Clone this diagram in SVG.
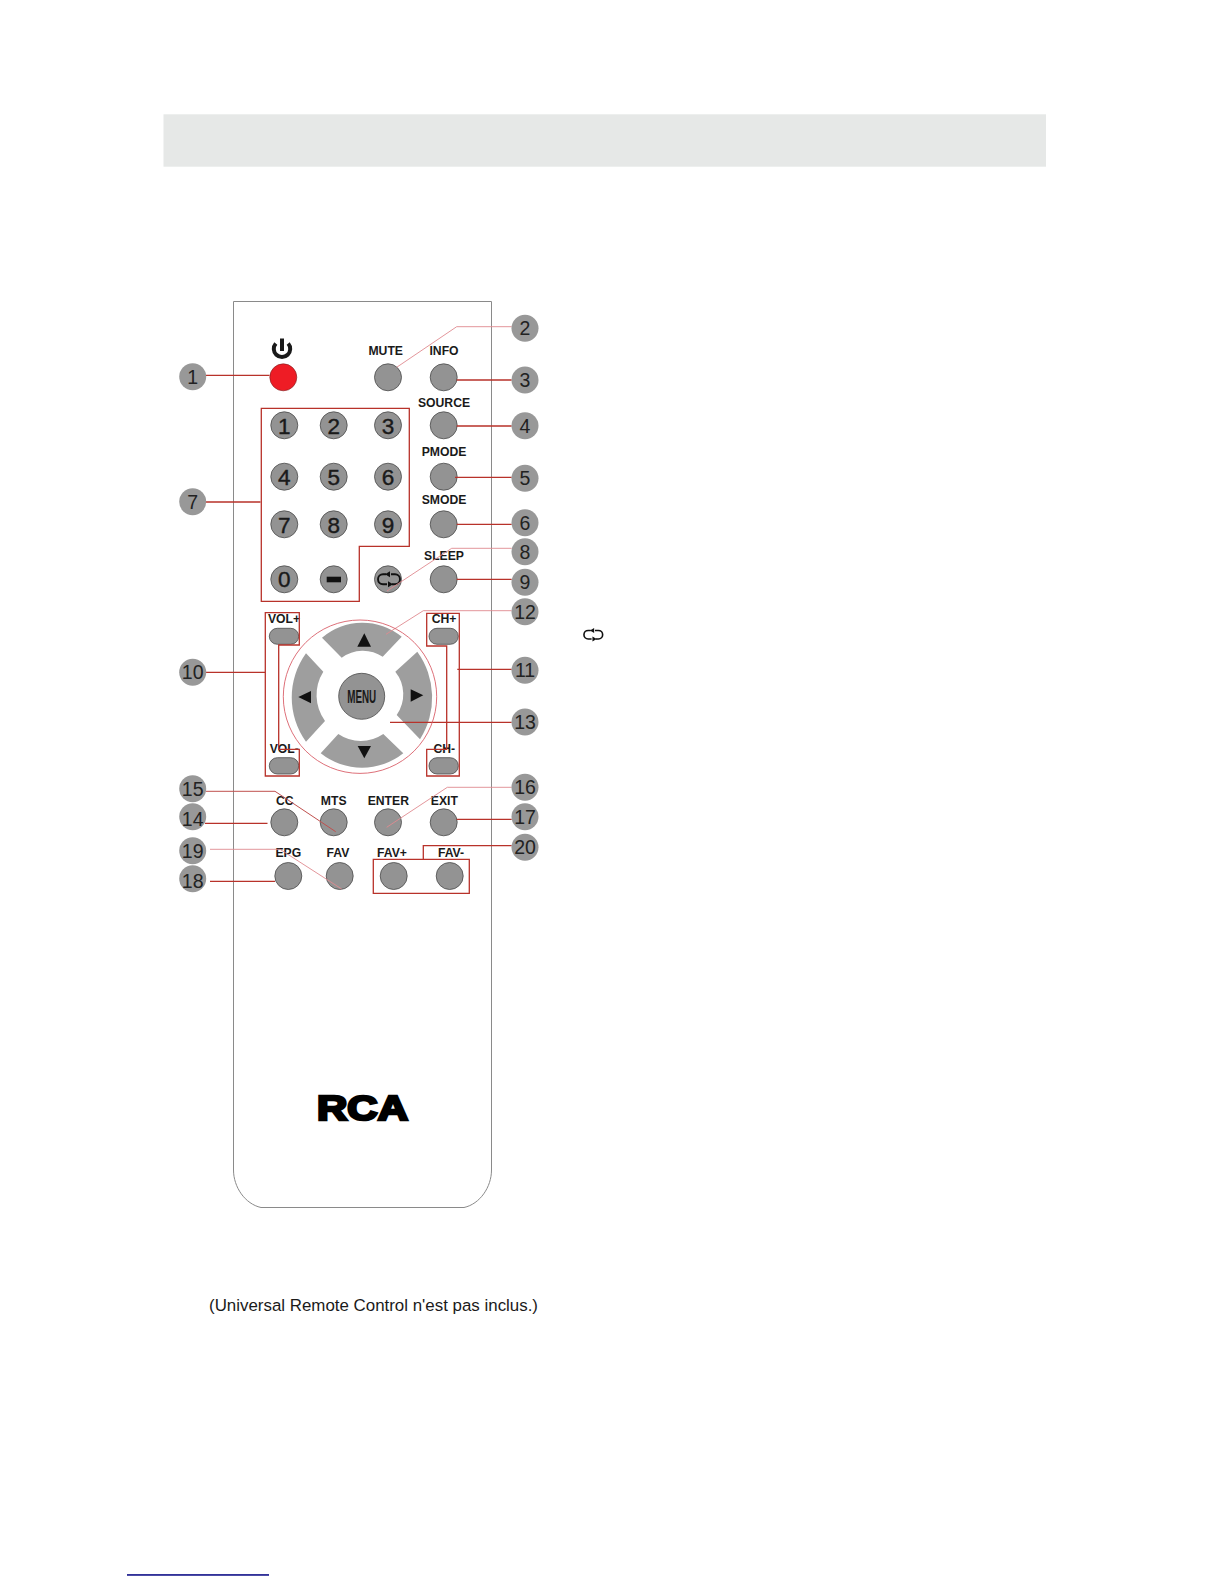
<svg xmlns="http://www.w3.org/2000/svg" width="1224" height="1584" viewBox="0 0 1224 1584">
<style>
text{font-family:"Liberation Sans",Arial,sans-serif;fill:#1a1a1a}
.btn{fill:#939393;stroke:#4a4a4a;stroke-width:.8}
.pad{fill:#9e9e9e}
.call{fill:#989898}
.num{font-size:19.5px;text-anchor:middle;fill:#222}
.lbl{font-size:12.2px;font-weight:bold;text-anchor:middle}
.dig{font-size:22.5px;text-anchor:middle;stroke:#1a1a1a;stroke-width:.4}
.r{fill:none;stroke:#b8322a;stroke-width:1.3}
.p{fill:none;stroke:#e08a90;stroke-width:.9}
.t{fill:none;stroke:#c0504e;stroke-width:1}
</style>
<defs>
<g id="rep">
<path d="M-3-5H-6A5 5 0 0 0-6 5H-2M3 5H6A5 5 0 0 0 6-5H2" fill="none" stroke="#111" stroke-width="1.9"/>
<path d="M-4-5 1-8V-2ZM4 5-1 8V2Z" fill="#111"/>
</g>
</defs>
<rect id="header" x="163.500" y="114.300" width="882.500" height="52.400" fill="#e6e8e7"/>
<path id="remote-body" d="M233.500 301.500H491.500V1170C491.500 1187 480 1204 464 1207.500H261C245 1204 233.500 1187 233.500 1170Z" fill="#fff" stroke="#8a8a8a" stroke-width="1"/>
<g id="power-icon">
<path d="M275.800 343.500A8.200 8.200 0 1 0 288.200 343.500" fill="none" stroke="#1a1a1a" stroke-width="4"/>
<path d="M282 338.500V351" stroke="#1a1a1a" stroke-width="4"/>
</g>
<g id="btn-power"><circle cx="283.300" cy="377.300" r="13.500" fill="#ee1c25" stroke="#7a2020" stroke-width=".6"/></g>
<g id="btn-mute"><circle class="btn" cx="388" cy="377.300" r="13.500"/><text class="lbl" x="385.700" y="355">MUTE</text></g>
<g id="btn-info"><circle class="btn" cx="443.700" cy="377.300" r="13.500"/><text class="lbl" x="444" y="355">INFO</text></g>
<g id="btn-source"><circle class="btn" cx="443.700" cy="425.300" r="13.500"/><text class="lbl" x="444" y="407.300">SOURCE</text></g>
<g id="btn-pmode"><circle class="btn" cx="443.700" cy="476.700" r="13.500"/><text class="lbl" x="444" y="455.700">PMODE</text></g>
<g id="btn-smode"><circle class="btn" cx="443.700" cy="524.300" r="13.500"/><text class="lbl" x="444" y="503.700">SMODE</text></g>
<g id="btn-sleep"><circle class="btn" cx="443.700" cy="579.300" r="13.500"/><text class="lbl" x="444" y="560.300">SLEEP</text></g>
<g id="btn-1"><circle class="btn" cx="284.300" cy="425.300" r="13.500"/><text class="dig" x="284.300" y="433.500">1</text></g>
<g id="btn-2"><circle class="btn" cx="333.700" cy="425.300" r="13.500"/><text class="dig" x="333.700" y="433.500">2</text></g>
<g id="btn-3"><circle class="btn" cx="388" cy="425.300" r="13.500"/><text class="dig" x="388" y="433.500">3</text></g>
<g id="btn-4"><circle class="btn" cx="284.300" cy="476.700" r="13.500"/><text class="dig" x="284.300" y="485">4</text></g>
<g id="btn-5"><circle class="btn" cx="333.700" cy="476.700" r="13.500"/><text class="dig" x="333.700" y="485">5</text></g>
<g id="btn-6"><circle class="btn" cx="388" cy="476.700" r="13.500"/><text class="dig" x="388" y="485">6</text></g>
<g id="btn-7"><circle class="btn" cx="284.300" cy="524.300" r="13.500"/><text class="dig" x="284.300" y="532.500">7</text></g>
<g id="btn-8"><circle class="btn" cx="333.700" cy="524.300" r="13.500"/><text class="dig" x="333.700" y="532.500">8</text></g>
<g id="btn-9"><circle class="btn" cx="388" cy="524.300" r="13.500"/><text class="dig" x="388" y="532.500">9</text></g>
<g id="btn-0"><circle class="btn" cx="284.300" cy="579.300" r="13.500"/><text class="dig" x="284.300" y="587">0</text></g>
<g id="btn-dash"><circle class="btn" cx="333.700" cy="579.300" r="13.500"/><rect x="326.700" y="576.700" width="14.300" height="5.600" fill="#111"/></g>
<g id="btn-repeat"><circle class="btn" cx="388" cy="579.300" r="13.500"/><use href="#rep" transform="translate(389 579.300)"/></g>
<g id="btn-volup"><rect class="btn" x="269.300" y="628.300" width="29.400" height="16" rx="8"/><text class="lbl" x="284" y="623.300">VOL+</text></g>
<g id="btn-voldn"><rect class="btn" x="269.300" y="757.700" width="29.400" height="16.300" rx="8"/><text class="lbl" x="284.300" y="753.300">VOL-</text></g>
<g id="btn-chup"><rect class="btn" x="429" y="628.300" width="29.300" height="16" rx="8"/><text class="lbl" x="444" y="623.300">CH+</text></g>
<g id="btn-chdn"><rect class="btn" x="429" y="757.700" width="29.300" height="16.300" rx="8"/><text class="lbl" x="444.300" y="753.300">CH-</text></g>
<g id="pad-up"><path class="pad" d="M322 637.700A62 62 0 0 1 401.700 636.700L382.700 656.700A35.600 35.600 0 0 0 341.700 657.700Z"/><path d="M364.300 633.300 357.300 646.700H371Z" fill="#111"/></g>
<g id="pad-right"><path class="pad" d="M417.300 651.700A78 78 0 0 1 420 739.300L396.700 715A36 36 0 0 0 395.300 671.700Z"/><path d="M410.700 689.300V701.700L423.300 695.300Z" fill="#111"/></g>
<g id="pad-left"><path class="pad" d="M306 653.300A75.600 75.600 0 0 0 306 741.700L325 721A44 44 0 0 1 323.300 671.700Z"/><path d="M298.300 697 311 691V703.300Z" fill="#111"/></g>
<g id="pad-down"><path class="pad" d="M320.700 753.300A66.400 66.400 0 0 0 403.300 753.300L383.300 734A40 40 0 0 1 338.300 734Z"/><path d="M357.700 746H371L364.300 758.300Z" fill="#111"/></g>
<g id="btn-menu"><circle class="btn" cx="361.700" cy="696.300" r="23"/><text x="361.700" y="703" text-anchor="middle" font-size="18.500" font-weight="bold" textLength="29" lengthAdjust="spacingAndGlyphs">MENU</text></g>
<g id="btn-cc"><circle class="btn" cx="284.300" cy="822.300" r="13.500"/><text class="lbl" x="284.700" y="805">CC</text></g>
<g id="btn-mts"><circle class="btn" cx="333.700" cy="822.300" r="13.500"/><text class="lbl" x="333.700" y="805">MTS</text></g>
<g id="btn-enter"><circle class="btn" cx="388" cy="822.300" r="13.500"/><text class="lbl" x="388.300" y="805">ENTER</text></g>
<g id="btn-exit"><circle class="btn" cx="443.700" cy="822.300" r="13.500"/><text class="lbl" x="444.300" y="805">EXIT</text></g>
<g id="btn-epg"><circle class="btn" cx="288.300" cy="876" r="13.500"/><text class="lbl" x="288.300" y="856.700">EPG</text></g>
<g id="btn-fav"><circle class="btn" cx="339.700" cy="876" r="13.500"/><text class="lbl" x="338" y="856.700">FAV</text></g>
<g id="btn-favp"><circle class="btn" cx="393.700" cy="876" r="13.500"/><text class="lbl" x="392" y="856.700">FAV+</text></g>
<g id="btn-favm"><circle class="btn" cx="449.700" cy="876" r="13.500"/><text class="lbl" x="451" y="856.700">FAV-</text></g>
<g id="connectors">
<path class="r" d="M206 375.300H269.500M456.700 380H511.700M456.700 426H511.700M455 477.300H511.700M456.700 524.300H511.700M456.700 579.300H511.700M206 502H260.500M206 672.300H265M457.300 669.300H511.700M390 722.300H511.700M205 823.300H267.500M456.700 819.300H511.700M210 881.300H275"/>
<path class="r" d="M261.300 408.300H409.300V546.300H359.300V601.300H261.300Z"/>
<path class="r" d="M265.300 612.700H299.300V645H278.700V749.300H299.300V776H265.300Z"/>
<path class="r" d="M426.700 613.300H459.300V776H426.700V749.300H446.700V646H426.700Z"/>
<path class="r" d="M373.300 859.300H469.300V893.300H373.300ZM423.300 859.300V845.700H511.700"/>
<path class="p" d="M511.700 326.700H456.700L396.700 367.300M511.700 548.300H451.700L387 591M511.700 610.700H423.300L386 634.300M511.700 787.300H447.300L386.700 827.300M210 849.300H280L341.700 889"/>
<path class="t" d="M206 791.300H275L335.700 831.700"/>
<circle cx="360" cy="696.700" r="76.700" fill="none" stroke="#d9606a" stroke-width=".9"/>
</g>
<g id="callout-1"><circle class="call" cx="192.700" cy="376.700" r="13.500"/><text class="num" x="192.700" y="383.700">1</text></g>
<g id="callout-2"><circle class="call" cx="525" cy="328.300" r="13.500"/><text class="num" x="525" y="335.300">2</text></g>
<g id="callout-3"><circle class="call" cx="525" cy="380" r="13.500"/><text class="num" x="525" y="387">3</text></g>
<g id="callout-4"><circle class="call" cx="525" cy="425.700" r="13.500"/><text class="num" x="525" y="432.700">4</text></g>
<g id="callout-5"><circle class="call" cx="525" cy="478.300" r="13.500"/><text class="num" x="525" y="485.300">5</text></g>
<g id="callout-6"><circle class="call" cx="525" cy="522.800" r="13.500"/><text class="num" x="525" y="529.800">6</text></g>
<g id="callout-7"><circle class="call" cx="192.700" cy="501.700" r="13.500"/><text class="num" x="192.700" y="508.700">7</text></g>
<g id="callout-8"><circle class="call" cx="525" cy="551.700" r="13.500"/><text class="num" x="525" y="558.700">8</text></g>
<g id="callout-9"><circle class="call" cx="525" cy="582.300" r="13.500"/><text class="num" x="525" y="589.300">9</text></g>
<g id="callout-10"><circle class="call" cx="192.700" cy="672.300" r="13.500"/><text class="num" x="192.700" y="679.300">10</text></g>
<g id="callout-11"><circle class="call" cx="525" cy="670.300" r="13.500"/><text class="num" x="525" y="677.300">11</text></g>
<g id="callout-12"><circle class="call" cx="525" cy="611.700" r="13.500"/><text class="num" x="525" y="618.700">12</text></g>
<g id="callout-13"><circle class="call" cx="525" cy="722" r="13.500"/><text class="num" x="525" y="729">13</text></g>
<g id="callout-15"><circle class="call" cx="192.700" cy="788.700" r="13.500"/><text class="num" x="192.700" y="795.700">15</text></g>
<g id="callout-14"><circle class="call" cx="192.700" cy="816.700" r="13.500"/><text class="num" x="192.700" y="826">14</text></g>
<g id="callout-16"><circle class="call" cx="525" cy="787.300" r="13.500"/><text class="num" x="525" y="794.300">16</text></g>
<g id="callout-17"><circle class="call" cx="525" cy="816.700" r="13.500"/><text class="num" x="525" y="823.700">17</text></g>
<g id="callout-19"><circle class="call" cx="192.700" cy="850.700" r="13.500"/><text class="num" x="192.700" y="857.700">19</text></g>
<g id="callout-18"><circle class="call" cx="192.700" cy="878.700" r="13.500"/><text class="num" x="192.700" y="887.500">18</text></g>
<g id="callout-20"><circle class="call" cx="525" cy="847.300" r="13.500"/><text class="num" x="525" y="854.300">20</text></g>
<text id="logo" x="317" y="1120.400" font-size="34.500" font-weight="bold" textLength="91" lengthAdjust="spacingAndGlyphs" stroke="#000" stroke-width="2.600" stroke-linejoin="miter" style="fill:#000">RCA</text>
<use id="repeat-icon" href="#rep" transform="translate(593.300 634.700) scale(.85)"/>
<text id="note" x="209" y="1310.700" font-size="16.300" textLength="329" lengthAdjust="spacingAndGlyphs">(Universal Remote Control n'est pas inclus.)</text>
<rect id="footer-line" x="127" y="1574.200" width="142" height="1.500" fill="#000080"/>
</svg>
